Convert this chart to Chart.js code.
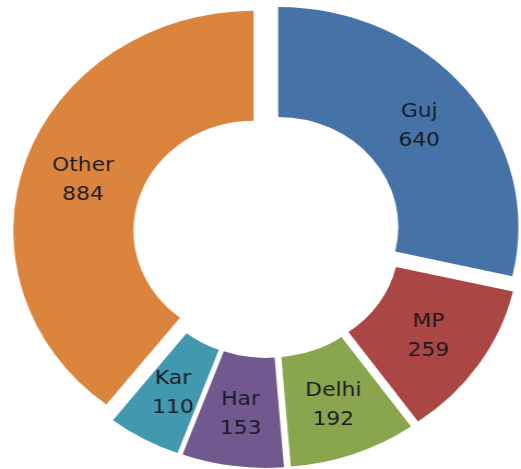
<!DOCTYPE html>
<html>
<head>
<meta charset="utf-8">
<script src="https://cdn.jsdelivr.net/npm/chart.js@4"></script>
<style>
  html, body { margin: 0; padding: 0; background: #fff; overflow: hidden; }
  /* the source picture is a slightly widened Excel doughnut */
  #wrap { width: 477px; height: 469px; transform: scaleX(1.0922); transform-origin: 0 0; }
</style>
</head>
<body>
<div id="wrap"><canvas id="myChart" width="477" height="469"></canvas></div>
<script>
const states = ['Guj', 'MP', 'Delhi', 'Har', 'Kar', 'Other'];
const counts = [640, 259, 192, 153, 110, 884];
const sliceColors = ['#4572A7', '#AA4643', '#89A54E', '#71588F', '#4198AF', '#DB843D'];

const explodeGap = 13;

// pull every slice out from the centre along its mid angle (Excel "explode")
const explodePlugin = {
    id: 'explode',
    afterDatasetUpdate(chart) {
        chart.getDatasetMeta(0).data.forEach(arc => {
            const mid = (arc.startAngle + arc.endAngle) / 2;
            arc.x += Math.cos(mid) * explodeGap;
            arc.y += Math.sin(mid) * explodeGap;
        });
    }
};

// category name + value in the middle of each slice
const sliceLabels = {
    id: 'sliceLabels',
    afterDatasetsDraw(chart) {
        const ctx = chart.ctx;
        ctx.save();
        ctx.fillStyle = '#1a1a22';
        ctx.font = '20px "DejaVu Sans", sans-serif';
        ctx.textAlign = 'center';
        ctx.textBaseline = 'middle';
        chart.getDatasetMeta(0).data.forEach((arc, i) => {
            const p = arc.tooltipPosition();
            ctx.fillText(states[i], p.x, p.y - 12);
            ctx.fillText(String(counts[i]), p.x, p.y + 17);
        });
        ctx.restore();
    }
};

const ctx = document.getElementById('myChart');
new Chart(ctx, {
    type: 'doughnut',
    data: {
        labels: states,
        datasets: [{
            data: counts,
            backgroundColor: sliceColors,
            borderWidth: 0
        }]
    },
    options: {
        responsive: false,
        animation: false,
        cutout: '50%',
        radius: 220,
        layout: { padding: { left: 12, right: 0, top: 1, bottom: 0 } },
        plugins: {
            legend: { display: false },
            tooltip: { enabled: false }
        }
    },
    plugins: [explodePlugin, sliceLabels]
});
</script>
</body>
</html>
